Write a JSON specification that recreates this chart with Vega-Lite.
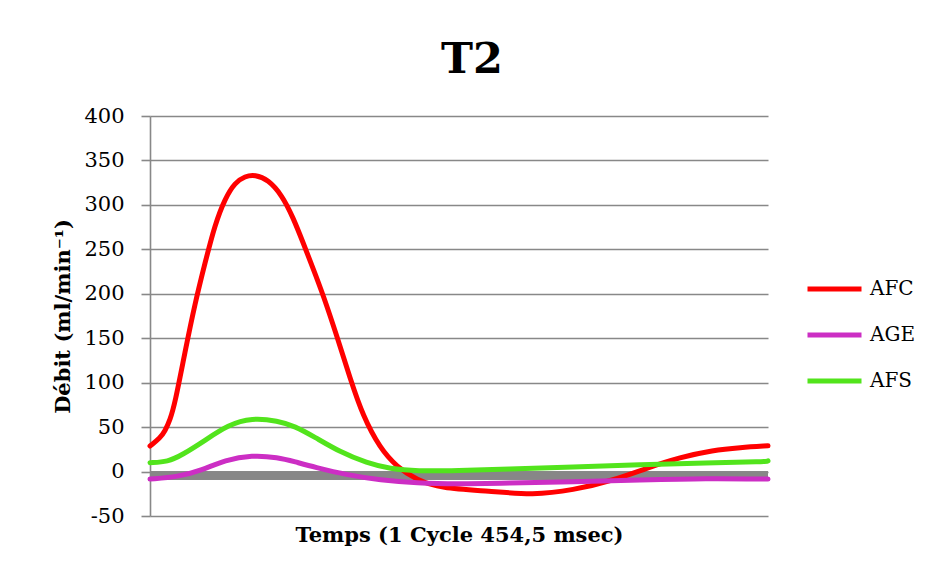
{
  "$schema": "https://vega.github.io/schema/vega-lite/v6.json",
  "width": 618,
  "height": 400,
  "autosize": {"type": "none"},
  "padding": {"left": 150, "top": 116, "right": 160, "bottom": 63},
  "background": "white",
  "config": {"view": {"stroke": null}, "font": "DejaVu Serif"},
  "title": {"text": "T2", "font": "DejaVu Serif", "fontSize": 43, "fontWeight": "bold", "color": "black", "anchor": "middle", "offset": 23, "dx": 13},
  "data": {"values": [
    {"t": 0, "s": "AFC", "v": 28.7}, {"t": 7.35, "s": "AFC", "v": 37.6}, {"t": 11.0, "s": "AFC", "v": 45.5}, {"t": 14.7, "s": "AFC", "v": 57.9},
    {"t": 18.4, "s": "AFC", "v": 77}, {"t": 25.7, "s": "AFC", "v": 134.3}, {"t": 33.1, "s": "AFC", "v": 189.3}, {"t": 40.4, "s": "AFC", "v": 234.3},
    {"t": 47.8, "s": "AFC", "v": 278.1}, {"t": 55.2, "s": "AFC", "v": 307.3}, {"t": 62.5, "s": "AFC", "v": 325.2}, {"t": 69.9, "s": "AFC", "v": 332.3},
    {"t": 77.2, "s": "AFC", "v": 334}, {"t": 86.8, "s": "AFC", "v": 328.5}, {"t": 97.1, "s": "AFC", "v": 310.9}, {"t": 105.2, "s": "AFC", "v": 285.9},
    {"t": 112.5, "s": "AFC", "v": 257.9}, {"t": 119.9, "s": "AFC", "v": 228.7}, {"t": 127.2, "s": "AFC", "v": 199.4}, {"t": 137.5, "s": "AFC", "v": 152.2},
    {"t": 147.1, "s": "AFC", "v": 105.1}, {"t": 156.6, "s": "AFC", "v": 62.4}, {"t": 169.1, "s": "AFC", "v": 26.4}, {"t": 181.6, "s": "AFC", "v": 5.1},
    {"t": 196.4, "s": "AFC", "v": -9.6}, {"t": 213.3, "s": "AFC", "v": -18.5}, {"t": 250.0, "s": "AFC", "v": -22},
    {"t": 281.7, "s": "AFC", "v": -26.5}, {"t": 311.1, "s": "AFC", "v": -21}, {"t": 340.5, "s": "AFC", "v": -10}, {"t": 365.5, "s": "AFC", "v": 4},
    {"t": 389.8, "s": "AFC", "v": 16}, {"t": 414.0, "s": "AFC", "v": 24}, {"t": 433.9, "s": "AFC", "v": 27}, {"t": 454.5, "s": "AFC", "v": 29},
    {"t": 0, "s": "AGE", "v": -8.5}, {"t": 20.6, "s": "AGE", "v": -6}, {"t": 38.2, "s": "AGE", "v": 1.5}, {"t": 55.2, "s": "AGE", "v": 13},
    {"t": 75.0, "s": "AGE", "v": 18.5}, {"t": 94.1, "s": "AGE", "v": 16}, {"t": 106.6, "s": "AGE", "v": 11}, {"t": 120.9, "s": "AGE", "v": 5},
    {"t": 145.6, "s": "AGE", "v": -4}, {"t": 169.1, "s": "AGE", "v": -9.5}, {"t": 196.4, "s": "AGE", "v": -13}, {"t": 225.8, "s": "AGE", "v": -14},
    {"t": 262.5, "s": "AGE", "v": -13}, {"t": 311.1, "s": "AGE", "v": -11.5}, {"t": 360.3, "s": "AGE", "v": -9.5},
    {"t": 409.6, "s": "AGE", "v": -7.5}, {"t": 454.5, "s": "AGE", "v": -8.5},
    {"t": 0, "s": "AFS", "v": 10}, {"t": 13.2, "s": "AFS", "v": 11}, {"t": 23.5, "s": "AFS", "v": 18.5}, {"t": 40.4, "s": "AFS", "v": 35},
    {"t": 57.4, "s": "AFS", "v": 52.5}, {"t": 75.0, "s": "AFS", "v": 60.5}, {"t": 94.1, "s": "AFS", "v": 57}, {"t": 106.6, "s": "AFS", "v": 51},
    {"t": 120.9, "s": "AFS", "v": 39}, {"t": 139.7, "s": "AFS", "v": 22}, {"t": 159.6, "s": "AFS", "v": 9.5}, {"t": 176.5, "s": "AFS", "v": 3},
    {"t": 196.4, "s": "AFS", "v": 0.5}, {"t": 225.8, "s": "AFS", "v": 1}, {"t": 262.5, "s": "AFS", "v": 3}, {"t": 311.1, "s": "AFS", "v": 5},
    {"t": 360.3, "s": "AFS", "v": 8}, {"t": 409.6, "s": "AFS", "v": 9.5}, {"t": 452.5, "s": "AFS", "v": 11}, {"t": 454.5, "s": "AFS", "v": 12}
  ]},
  "layer": [
    {
      "mark": {"type": "rule", "color": "#878787", "strokeWidth": 8},
      "encoding": {"y": {"datum": -4.3, "type": "quantitative"}}
    },
    {
      "mark": {"type": "line", "interpolate": "basis", "strokeWidth": 5, "strokeCap": "round", "strokeJoin": "round"},
      "encoding": {
        "x": {"field": "t", "type": "quantitative", "scale": {"domain": [0, 454.5], "nice": false, "zero": false},
          "axis": {"title": "Temps (1 Cycle 454,5 msec)", "labels": false, "ticks": false, "domain": false, "grid": false,
            "titleFont": "DejaVu Serif", "titleFontSize": 21, "titleFontWeight": "bold", "titleColor": "black", "titlePadding": 8}},
        "y": {"field": "v", "type": "quantitative", "scale": {"domain": [-50, 400], "nice": false},
          "axis": {"title": "Débit (ml/min⁻¹)", "values": [-50, 0, 50, 100, 150, 200, 250, 300, 350, 400],
            "labelExpr": "replace(datum.label, '−', '-')",
            "grid": true, "gridColor": "#888888", "gridWidth": 1.6, "domainColor": "#888888", "domainWidth": 1.6,
            "tickColor": "#888888", "tickWidth": 1.6, "tickSize": 9, "labelPadding": 17,
            "labelFont": "DejaVu Serif", "labelFontSize": 21, "labelColor": "black",
            "titleFont": "DejaVu Serif", "titleFontSize": 21, "titleFontWeight": "bold", "titleColor": "black", "titlePadding": 10}},
        "color": {"field": "s", "type": "nominal", "sort": ["AFC", "AGE", "AFS"],
          "scale": {"domain": ["AFC", "AGE", "AFS"], "range": ["#FF0000", "#CC2EC4", "#52E41C"]},
          "legend": {"title": null, "orient": "none", "legendX": 655, "legendY": 157, "padding": 0,
            "symbolType": "M-1,0H3", "symbolSize": 729, "symbolStrokeWidth": 5, "labelOffset": 33, "rowPadding": 20,
            "labelFont": "DejaVu Serif", "labelFontSize": 20, "labelColor": "black"}}
      }
    }
  ]
}
